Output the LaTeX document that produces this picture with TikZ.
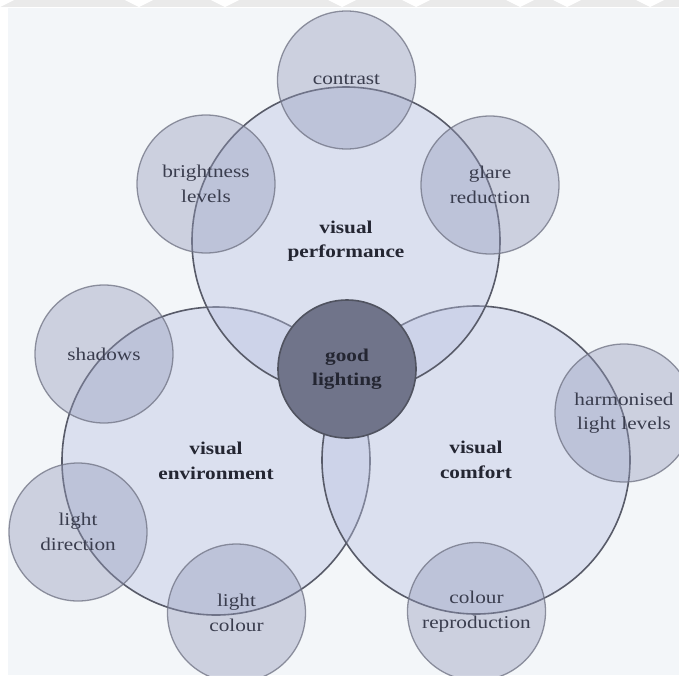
\documentclass[tikz,border=0pt]{standalone}
\usepackage{fontspec}
\setmainfont{Liberation Serif}[FakeStretch=1.18]
\definecolor{bgc}{RGB}{243,246,249}
\definecolor{bandc}{RGB}{234,234,234}
\definecolor{bigc}{RGB}{185,192,224}
\definecolor{smallc}{RGB}{146,152,184}
\definecolor{linec}{RGB}{88,91,105}
\definecolor{slinec}{RGB}{110,113,130}
\definecolor{glc}{RGB}{112,116,138}
\definecolor{gllinec}{RGB}{80,83,96}
\definecolor{txtc}{RGB}{58,61,78}
\definecolor{btxtc}{RGB}{36,38,50}
\tikzset{
  bigcircle/.style={circle, minimum size=308pt, inner sep=0pt, fill=bigc,
    fill opacity=0.4, text opacity=1, draw=linec, line width=1.6pt,
    font=\fontsize{18}{24.5}\selectfont\bfseries, text=btxtc, align=center},
  smallcircle/.style={circle, minimum size=138pt, inner sep=0pt, fill=smallc,
    fill opacity=0.4, text opacity=1, draw=slinec, draw opacity=0.75, line width=1.3pt,
    font=\fontsize{18}{24.5}\selectfont, text=txtc, align=center},
  corecircle/.style={circle, minimum size=138pt, inner sep=0pt, fill=glc,
    draw=gllinec, line width=1.6pt,
    font=\fontsize{18}{24.5}\selectfont\bfseries, text=btxtc, align=center},
  bandpiece/.style={fill=white, draw=none}
}
\begin{document}
\begin{tikzpicture}[x=1pt,y=-1pt]
\useasboundingbox (0,0) rectangle (679,675);
\fill[white] (0,0) rectangle (679,675);
\fill[bgc] (8,8) rectangle (679,675);
% top band
\fill[bandc] (0,0) rectangle (679,7);
\foreach \px in {0,139,225,342,416,520,567,650}{
  \fill[bandpiece] (\px-14,0) -- (\px+14,0) -- (\px,7) -- cycle;
}
% big circles (environment, comfort, performance)
\node[bigcircle] (env) at (216,461) {visual\\environment};
\node[bigcircle] (com) at (476,460) {visual\\comfort};
\node[bigcircle] (perf) at (346,241) {visual\\performance};
% small circles
\node[smallcircle] (contrast) at (346.5,80) {contrast};
\node[smallcircle] (bright) at (206,184) {brightness\\levels};
\node[smallcircle] (glare) at (490,185) {glare\\reduction};
\node[smallcircle] (shadows) at (104,354) {shadows};
\node[smallcircle] (dir) at (78,532) {light\\direction};
\node[smallcircle] (lcol) at (236.5,613) {light\\colour};
\node[smallcircle] (harm) at (624,413) {harmonised\\light levels};
\node[smallcircle] (repro) at (476.5,611.5) {colour\\reproduction};
% centre
\node[corecircle] (good) at (347,369) {good\\lighting};
\end{tikzpicture}
\end{document}
